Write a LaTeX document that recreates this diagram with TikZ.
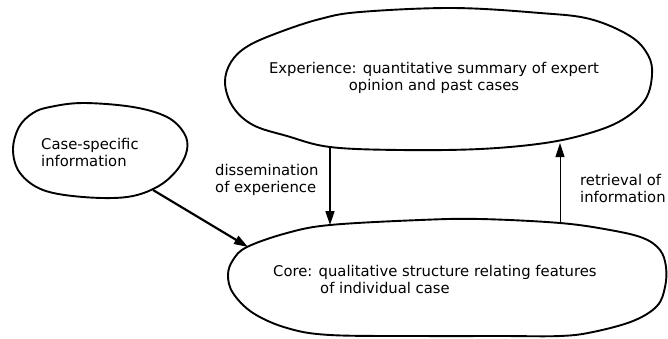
\documentclass[tikz,border=0pt]{standalone}
\usepackage{fontspec}
\setmainfont{DejaVu Sans}
\usetikzlibrary{arrows.meta}
\begin{document}
\begin{tikzpicture}[x=1pt,y=-1pt,
  blob/.style={draw=black, line width=1.9pt, line join=round},
  txt/.style={font=\fontsize{14.8}{17}\selectfont, inner sep=0pt},
  tip/.style={-{Triangle[length=14pt,width=9pt]}},
  flow/.style={line width=1.6pt, tip},
  heavyflow/.style={line width=2.2pt, tip},
  thinflow/.style={line width=0.9pt, tip}]
\useasboundingbox (0,0) rectangle (668,338);

% experience blob
\draw[blob] plot[smooth cycle, tension=0.6] coordinates {
  (360,12) (453,8) (540,13) (590,19) (630,36) (648,55) (652,75) (645,100)
  (622,120) (590,133) (545,143) (480,149) (400,150) (330,147) (287,136)
  (253,125) (233,107) (225,83) (231,62) (248,46) (280,32) (320,19)};

% case-specific blob
\draw[blob] plot[smooth cycle, tension=0.6] coordinates {
  (50,107) (83,103) (133,107) (167,117) (184,133) (187,150) (177,170)
  (157,187) (127,197) (83,197) (43,190) (20,173) (13,150) (19,127) (33,113)};

% core blob
\draw[blob] plot[smooth cycle, tension=0.6] coordinates {
  (247,247) (233,260) (228,275) (233,293) (253,313) (287,328) (330,335)
  (420,336) (500,336) (560,336) (593,332) (633,321) (657,306) (665,287)
  (666,267) (660,250) (643,238) (610,230) (560,223) (480,219) (420,220)
  (330,225) (287,233)};

% texts
\node[txt, align=center] (exptext) at (434,78)
  {Experience: quantitative summary of expert\\opinion and past cases};
\node[txt, align=left, anchor=west] (casetext) at (41,152)
  {Case-specific\\information};
\node[txt, align=left, anchor=west] (coretext) at (273,279)
  {Core: qualitative structure relating features\\\hspace*{47pt}of individual case};
\node[txt, align=left, anchor=west] (dissem) at (215,180)
  {dissemination\\of experience};
\node[txt, align=left, anchor=west] (retriev) at (580,188.5)
  {retrieval of\\information};

% connector end points on the outlines
\coordinate (expS)   at (330,147);
\coordinate (coreN)  at (330,225);
\coordinate (caseSE) at (153,190);
\coordinate (coreNW) at (248,247);
\coordinate (coreN2) at (560,222);
\coordinate (expS2)  at (560,143);

\draw[flow] (expS) -- (coreN);
\draw[heavyflow] (caseSE) -- (coreNW);
\draw[thinflow] (coreN2) -- (expS2);
\end{tikzpicture}
\end{document}
